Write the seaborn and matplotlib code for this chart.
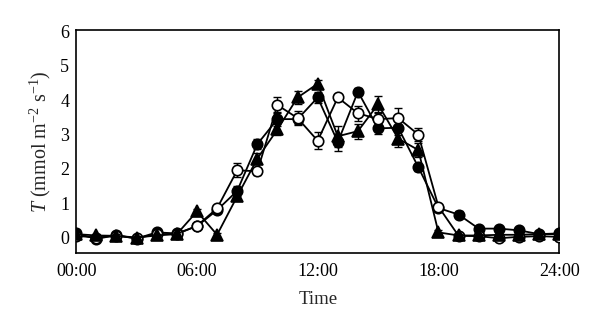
import numpy as np
import pandas as pd
import matplotlib
matplotlib.use("Agg")
import matplotlib.pyplot as plt
import seaborn as sns

# Hourly transpiration rate T (mmol m-2 s-1) for three treatments
hours = list(range(25))
tick_hours = [0, 6, 12, 18, 24]
tick_labels = ["00:00", "06:00", "12:00", "18:00", "24:00"]

filled_vals = [0.12, -0.04, 0.07, -0.03, 0.15, 0.12, 0.33, 0.80, 1.36, 2.72,
               3.45, 3.45, 4.08, 2.78, 4.25, 3.18, 3.20, 2.05, 0.86, 0.67,
               0.26, 0.26, 0.21, 0.10, 0.12]
filled_err = [0.08, 0.05, 0.05, 0.05, 0.06, 0.05, 0.08, 0.08, 0.15, 0.15,
              0.20, 0.15, 0.15, 0.25, 0.10, 0.15, 0.20, 0.10, 0.08, 0.10,
              0.05, 0.05, 0.05, 0.05, 0.05]

open_vals = [0.05, 0.00, 0.05, -0.02, 0.10, 0.10, 0.34, 0.85, 1.96, 1.93,
             3.86, 3.48, 2.82, 4.08, 3.62, 3.45, 3.48, 3.00, 0.90, 0.05,
             0.04, -0.02, 0.02, 0.04, 0.02]
open_err = [0.05, 0.05, 0.05, 0.05, 0.05, 0.05, 0.06, 0.08, 0.20, 0.10,
            0.22, 0.20, 0.25, 0.10, 0.22, 0.20, 0.28, 0.20, 0.08, 0.05,
            0.05, 0.05, 0.05, 0.05, 0.05]

tri_vals = [0.10, 0.06, 0.05, 0.00, 0.06, 0.10, 0.76, 0.08, 1.20, 2.30,
            3.15, 4.08, 4.48, 2.95, 3.10, 3.88, 2.88, 2.55, 0.15, 0.06,
            0.06, 0.08, 0.08, 0.10, 0.10]
tri_err = [0.05, 0.05, 0.05, 0.05, 0.05, 0.05, 0.08, 0.05, 0.12, 0.15,
           0.15, 0.18, 0.12, 0.30, 0.22, 0.25, 0.25, 0.20, 0.06, 0.05,
           0.05, 0.05, 0.05, 0.05, 0.05]

sns.set_style("white")
plt.rcParams["font.family"] = ["Liberation Serif", "DejaVu Serif"]
plt.rcParams["mathtext.fontset"] = "custom"
plt.rcParams["mathtext.rm"] = "Liberation Serif"
plt.rcParams["mathtext.it"] = "Liberation Serif:italic"

fig = plt.figure(figsize=(6.0, 3.32), dpi=100)
ax = fig.add_axes([0.127, 0.238, 0.805, 0.672])

series = [
    ("filled", filled_vals, filled_err, "o", "black", 2),
    ("open", open_vals, open_err, "o", "white", 3),
    ("triangle", tri_vals, tri_err, "^", "black", 4),
]

for name, vals, errs, mk, face, z in series:
    df = pd.DataFrame({"hour": hours, "T": vals})
    ax.errorbar(hours, vals, yerr=errs, fmt="none", ecolor="black",
                elinewidth=1.0, capsize=3, capthick=1.0, zorder=z - 0.5)
    sns.lineplot(data=df, x="hour", y="T", ax=ax, color="black",
                 linewidth=1.3, marker=mk, markersize=7.5 if mk == "o" else 8,
                 markerfacecolor=face, markeredgecolor="black",
                 markeredgewidth=1.2, zorder=z)

ax.set_xlim(0, 24)
ax.set_ylim(-0.45, 6.05)
ax.set_xticks(tick_hours)
ax.set_xticklabels(tick_labels)
ax.set_yticks(range(0, 7))
ax.tick_params(direction="in", length=4, width=1, labelsize=13,
               colors="black", pad=5)
ax.tick_params(axis="x", pad=7)
for sp in ax.spines.values():
    sp.set_linewidth(1.2)
    sp.set_color("black")

ax.set_xlabel("Time", fontsize=13.5, labelpad=8)
ax.set_ylabel(r"$T$ (mmol m$^{-2}$ s$^{-1}$)", fontsize=14.5, labelpad=5)

fig.savefig("out.png", dpi=100)
